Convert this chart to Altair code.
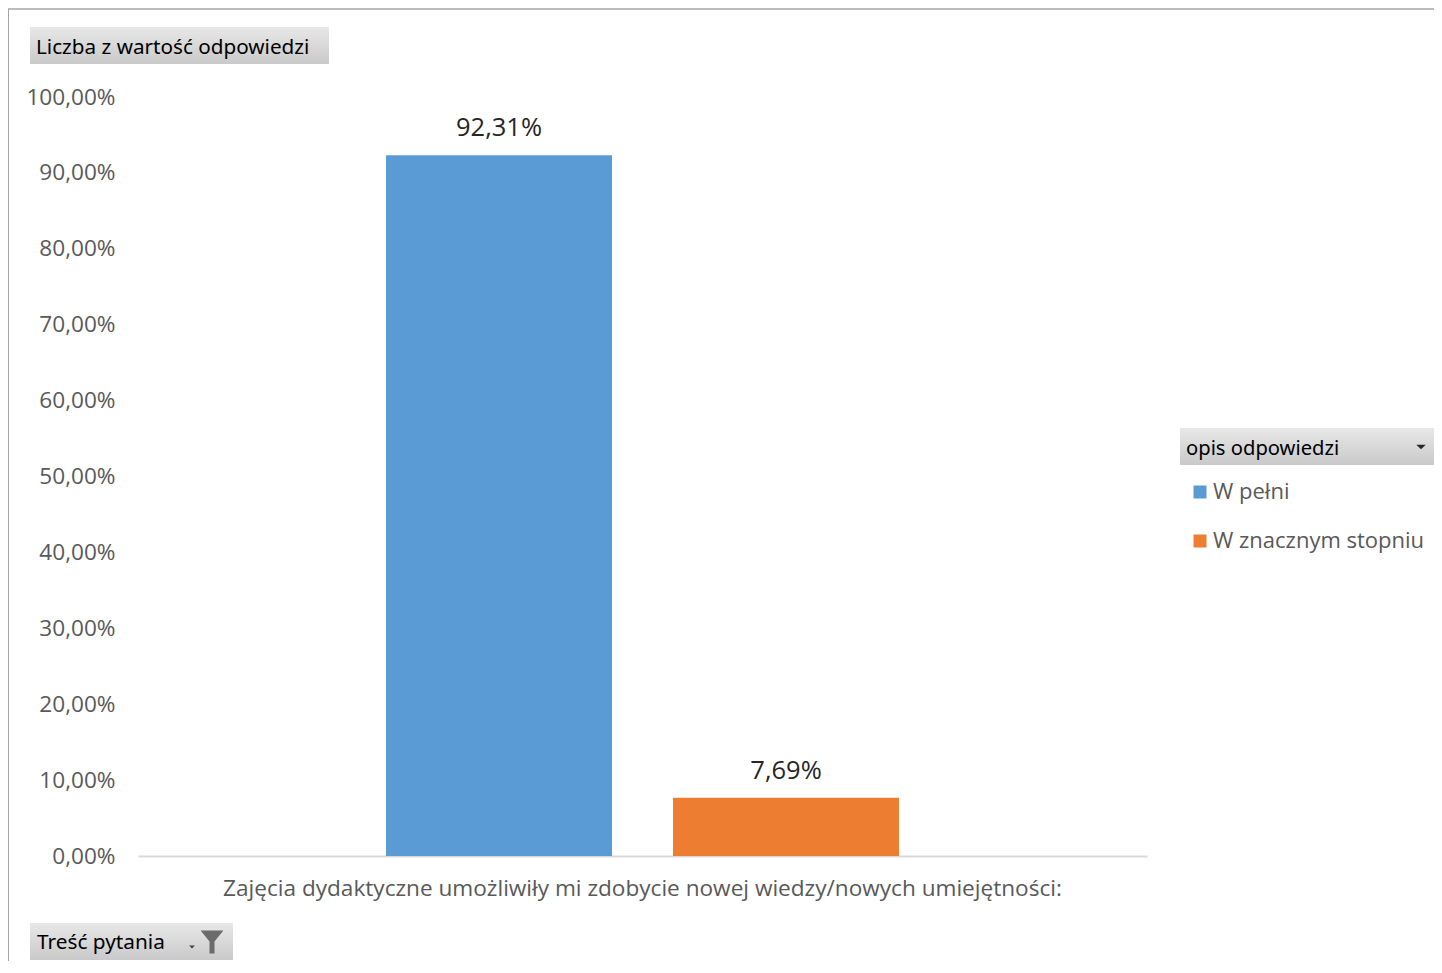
import altair as alt
import pandas as pd

question = ["Zajęcia dydaktyczne umożliwiły mi zdobycie nowej wiedzy/nowych umiejętności:"]
series = ["W pełni", "W znacznym stopniu"]
values = [0.9231, 0.0769]
colors = ["#5B9BD5", "#ED7D31"]
y_ticks = [0.0, 0.1, 0.2, 0.3, 0.4, 0.5, 0.6, 0.7, 0.8, 0.9, 1.0]

df = pd.DataFrame({
    "pytanie": [question[0]] * len(series),
    "opis": series,
    "wartosc": values,
})

W, H = 1009, 759
FONT = "Open Sans"
HFONT = "Liberation Sans Narrow, Noto Sans"
GRAD = {"gradient": "linear", "x1": 0, "x2": 0, "y1": 0, "y2": 1,
        "stops": [{"offset": 0, "color": "#e8e8e8"}, {"offset": 1, "color": "#c9c9c9"}]}

base = alt.Chart(df)

bars = base.mark_bar().encode(
    x=alt.X("pytanie:N", title=None,
            scale=alt.Scale(paddingInner=0, paddingOuter=0),
            axis=alt.Axis(labelAngle=0, labelLimit=2000, labelFontSize=22.6, labelFont=FONT,
                          labelColor="#595959", ticks=False, domainColor="#d9d9d9",
                          domainWidth=2, labelPadding=21)),
    xOffset=alt.XOffset("opis:N", sort=series,
                        scale=alt.Scale(paddingInner=0.2125, paddingOuter=0.864)),
    y=alt.Y("wartosc:Q", title=None,
            scale=alt.Scale(domain=[0, 1], nice=False),
            axis=alt.Axis(values=y_ticks, grid=False, domain=False, ticks=False,
                          labelFontSize=22.6, labelFont=FONT, labelColor="#595959",
                          labelPadding=23,
                          labelExpr="replace(format(datum.value, '.2%'), '.', ',')")),
    color=alt.Color("opis:N", sort=series,
                    scale=alt.Scale(domain=series, range=colors),
                    legend=alt.Legend(title=None, orient="none", legendX=1051, legendY=384,
                                      symbolType="square", symbolSize=169, symbolStrokeWidth=0,
                                      labelFontSize=22, labelFont=FONT, labelColor="#595959",
                                      labelLimit=1000, labelOffset=2, rowPadding=27)),
)

labels = base.mark_text(baseline="alphabetic", dy=-19, fontSize=25.5, font=FONT,
                        color="#262626").transform_calculate(
    lab="replace(format(datum.wartosc, '.2%'), '.', ',')"
).encode(
    x=alt.X("pytanie:N"),
    xOffset=alt.XOffset("opis:N", sort=series),
    y=alt.Y("wartosc:Q"),
    text="lab:N",
)

one = alt.Data(values=[{"k": 0}])

def box(x1, x2, y1, y2):
    return alt.Chart(one).mark_rect(color=GRAD).encode(
        x=alt.value(x1), x2=alt.value(x2), y=alt.value(y1), y2=alt.value(y2))

def txt(t, x, y, size=20, color="#000000", font=HFONT, align="left"):
    return alt.Chart(one).mark_text(text=t, align=align, baseline="middle",
                                    fontSize=size, font=font, color=color).encode(
        x=alt.value(x), y=alt.value(y))

border_top = alt.Chart(one).mark_rule(color="#a6a6a6", strokeWidth=1.5).encode(
    x=alt.value(-131), x2=alt.value(1300), y=alt.value(-88))
border_left = alt.Chart(one).mark_rule(color="#a6a6a6", strokeWidth=2).encode(
    x=alt.value(-130), y=alt.value(-88), y2=alt.value(880))

box1 = box(-108, 191, -70, -33)
t1 = txt("Liczba z wartość odpowiedzi", -102, -49, size=20.7)
box2 = box(-108, 95, 826, 863)
t2 = txt("Treść pytania", -101, 846, size=20.8)
box3 = box(1042, 1300, 331, 368)
t3 = txt("opis odpowiedzi", 1048, 352, size=20.2)

tri_legend = alt.Chart(one).mark_point(shape="M-1,-0.5L1,-0.5L0,0.5Z", filled=True, size=90,
                                       color="#262626", opacity=1).encode(
    x=alt.value(1283), y=alt.value(350))
tri_small = alt.Chart(one).mark_point(shape="M-1,-0.5L1,-0.5L0,0.5Z", filled=True, size=32,
                                      color="#404040", opacity=1).encode(
    x=alt.value(54), y=alt.value(850))
funnel = alt.Chart(one).mark_point(
    shape="M-1,-1L1,-1L0.22,-0.05L0.22,1L-0.22,1L-0.22,-0.05Z",
    filled=True, size=520, color="#6b6b6b", opacity=1).encode(
    x=alt.value(74), y=alt.value(845))

chart = alt.layer(
    border_top, border_left, bars, labels, box1, t1, box2, t2, box3, t3,
    tri_legend, tri_small, funnel
).properties(
    width=W, height=H,
    padding={"left": 130, "top": 89, "right": 287, "bottom": 105},
    autosize=alt.AutoSizeParams(type="none"),
).configure_view(stroke=None)

chart.save("out.html", embed_options={"renderer": "svg", "actions": False})
